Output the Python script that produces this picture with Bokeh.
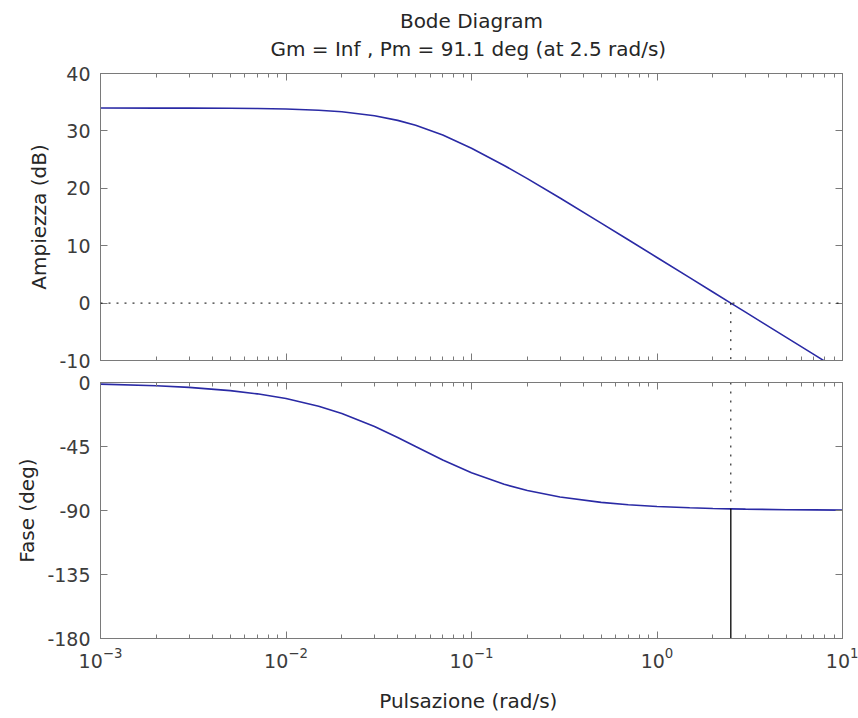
from bokeh.plotting import figure
from bokeh.layouts import column
from bokeh.models import (LogAxis, LinearAxis, FixedTicker, CustomJSTickFormatter,
                          Title, Span, Range1d)
from bokeh.embed import file_html
from bokeh.resources import INLINE

# ---------------- data ----------------
freq = [0.001, 0.002, 0.003, 0.005, 0.007, 0.01, 0.015, 0.02, 0.03, 0.04, 0.05,
        0.07, 0.1, 0.15, 0.2, 0.3, 0.5, 0.7, 1.0, 1.5, 2.0, 2.5, 3.0, 5.0, 7.0, 10.0]
mag_db = [33.98, 33.97, 33.96, 33.94, 33.90, 33.81, 33.61, 33.34, 32.65, 31.83, 30.97,
          29.27, 26.99, 23.98, 21.68, 18.30, 13.94, 11.04, 7.95, 4.43, 1.94, 0.0,
          -1.58, -6.02, -8.94, -12.04]
phase_deg = [-1.15, -2.29, -3.43, -5.71, -7.97, -11.31, -16.70, -21.80, -30.96, -38.66,
             -45.0, -54.46, -63.43, -71.57, -75.96, -80.54, -84.29, -85.91, -87.14,
             -88.09, -88.57, -88.85, -89.05, -89.43, -89.59, -89.71]

mag_ticks = [-10, 0, 10, 20, 30, 40]
phase_ticks = [-180, -135, -90, -45, 0]
freq_major_ticks = [0.001, 0.01, 0.1, 1, 10]
freq_minor_ticks = [0.002, 0.003, 0.004, 0.005, 0.006, 0.007, 0.008, 0.009,
                    0.02, 0.03, 0.04, 0.05, 0.06, 0.07, 0.08, 0.09,
                    0.2, 0.3, 0.4, 0.5, 0.6, 0.7, 0.8, 0.9,
                    2, 3, 4, 5, 6, 7, 8, 9]
freq_range = [0.001, 10]
mag_range = [-10, 40]
phase_range = [-180, 0]

title_lines = ["Bode Diagram", "Gm = Inf ,  Pm = 91.1 deg (at 2.5 rad/s)"]
x_label = "Pulsazione  (rad/s)"
mag_label = "Ampiezza (dB)"
phase_label = "Fase (deg)"

crossover_freq = 2.5      # rad/s
crossover_phase = -88.9   # deg (Pm = 91.1)

# ---------------- style ----------------
FONT = "DejaVu Sans"
AXC = "#7a7a7a"
TXT = "#262626"
TICKTXT = "#3c3c3c"
BLUE = "#2a2aa5"

x_ticker = FixedTicker(ticks=freq_major_ticks, minor_ticks=freq_minor_ticks)


def style_axis(ax, show_labels):
    ax.axis_line_color = AXC
    ax.major_tick_line_color = AXC
    ax.minor_tick_line_color = AXC
    ax.major_tick_in = 7
    ax.major_tick_out = 0
    ax.minor_tick_in = 4
    ax.minor_tick_out = 0
    ax.major_label_text_font = FONT
    ax.major_label_text_font_size = "19px"
    ax.major_label_text_color = TICKTXT
    ax.axis_label_text_font = FONT
    ax.axis_label_text_font_size = "20px"
    ax.axis_label_text_font_style = "normal"
    ax.axis_label_text_color = TXT
    if not show_labels:
        ax.formatter = CustomJSTickFormatter(code="return ''")
        ax.major_label_standoff = 0
        ax.major_label_text_font_size = "0px"


def make_fig(height, top, bottom, y_range, y_ticks, y_label, show_x_labels):
    p = figure(width=858, height=height, x_axis_type="log",
               x_range=Range1d(*freq_range), y_range=Range1d(*y_range),
               output_backend="svg", toolbar_location=None, title=None,
               min_border_left=100, min_border_right=16,
               min_border_top=top, min_border_bottom=bottom)
    p.grid.visible = False
    p.outline_line_color = AXC
    p.background_fill_color = "white"
    p.border_fill_color = "white"
    y_ticker = FixedTicker(ticks=y_ticks)
    xb = p.below[0]
    yl = p.left[0]
    xb.ticker = x_ticker
    yl.ticker = y_ticker
    yl.formatter = CustomJSTickFormatter(code="return String(tick)")
    yl.axis_label = y_label
    style_axis(yl, True)
    yl.major_label_standoff = 10
    yl.axis_label_standoff = 5
    style_axis(xb, show_x_labels)
    ax_top = LogAxis(ticker=x_ticker)
    style_axis(ax_top, False)
    p.add_layout(ax_top, "above")
    ax_right = LinearAxis(ticker=y_ticker)
    style_axis(ax_right, False)
    p.add_layout(ax_right, "right")
    return p, xb, yl


# ---------------- magnitude ----------------
p1, xb1, yl1 = make_fig(371, 73, 11, mag_range, mag_ticks, mag_label, False)
p1.line(freq, mag_db, line_color=BLUE, line_width=1.6)
p1.add_layout(Span(location=0, dimension="width", line_color="black",
                   line_dash="2 6", line_width=1))
p1.segment(x0=[crossover_freq], y0=[0], x1=[crossover_freq], y1=[mag_range[0]],
           line_color="black", line_dash="2 7", line_width=1)
p1.add_layout(Title(text=title_lines[1], align="center", text_font=FONT,
                    text_font_size="20px", text_font_style="normal",
                    text_color=TXT, standoff=26), "above")
p1.add_layout(Title(text=title_lines[0], align="center", text_font=FONT,
                    text_font_size="20px", text_font_style="normal",
                    text_color=TXT, standoff=-22), "above")

# ---------------- phase ----------------
p2, xb2, yl2 = make_fig(347, 11, 80, phase_range, phase_ticks, phase_label, True)
xb2.axis_label = x_label
xb2.major_label_standoff = 8
xb2.axis_label_standoff = 18
p2.line(freq, phase_deg, line_color=BLUE, line_width=1.6)
p2.segment(x0=[crossover_freq], y0=[phase_range[1]], x1=[crossover_freq],
           y1=[crossover_phase], line_color="black", line_dash="2 7", line_width=1)
p2.segment(x0=[crossover_freq], y0=[crossover_phase], x1=[crossover_freq],
           y1=[phase_range[0]], line_color="black", line_width=1.3)

layout = column(p1, p2, spacing=0)
open("out.html", "w", encoding="utf-8").write(file_html(layout, INLINE))
